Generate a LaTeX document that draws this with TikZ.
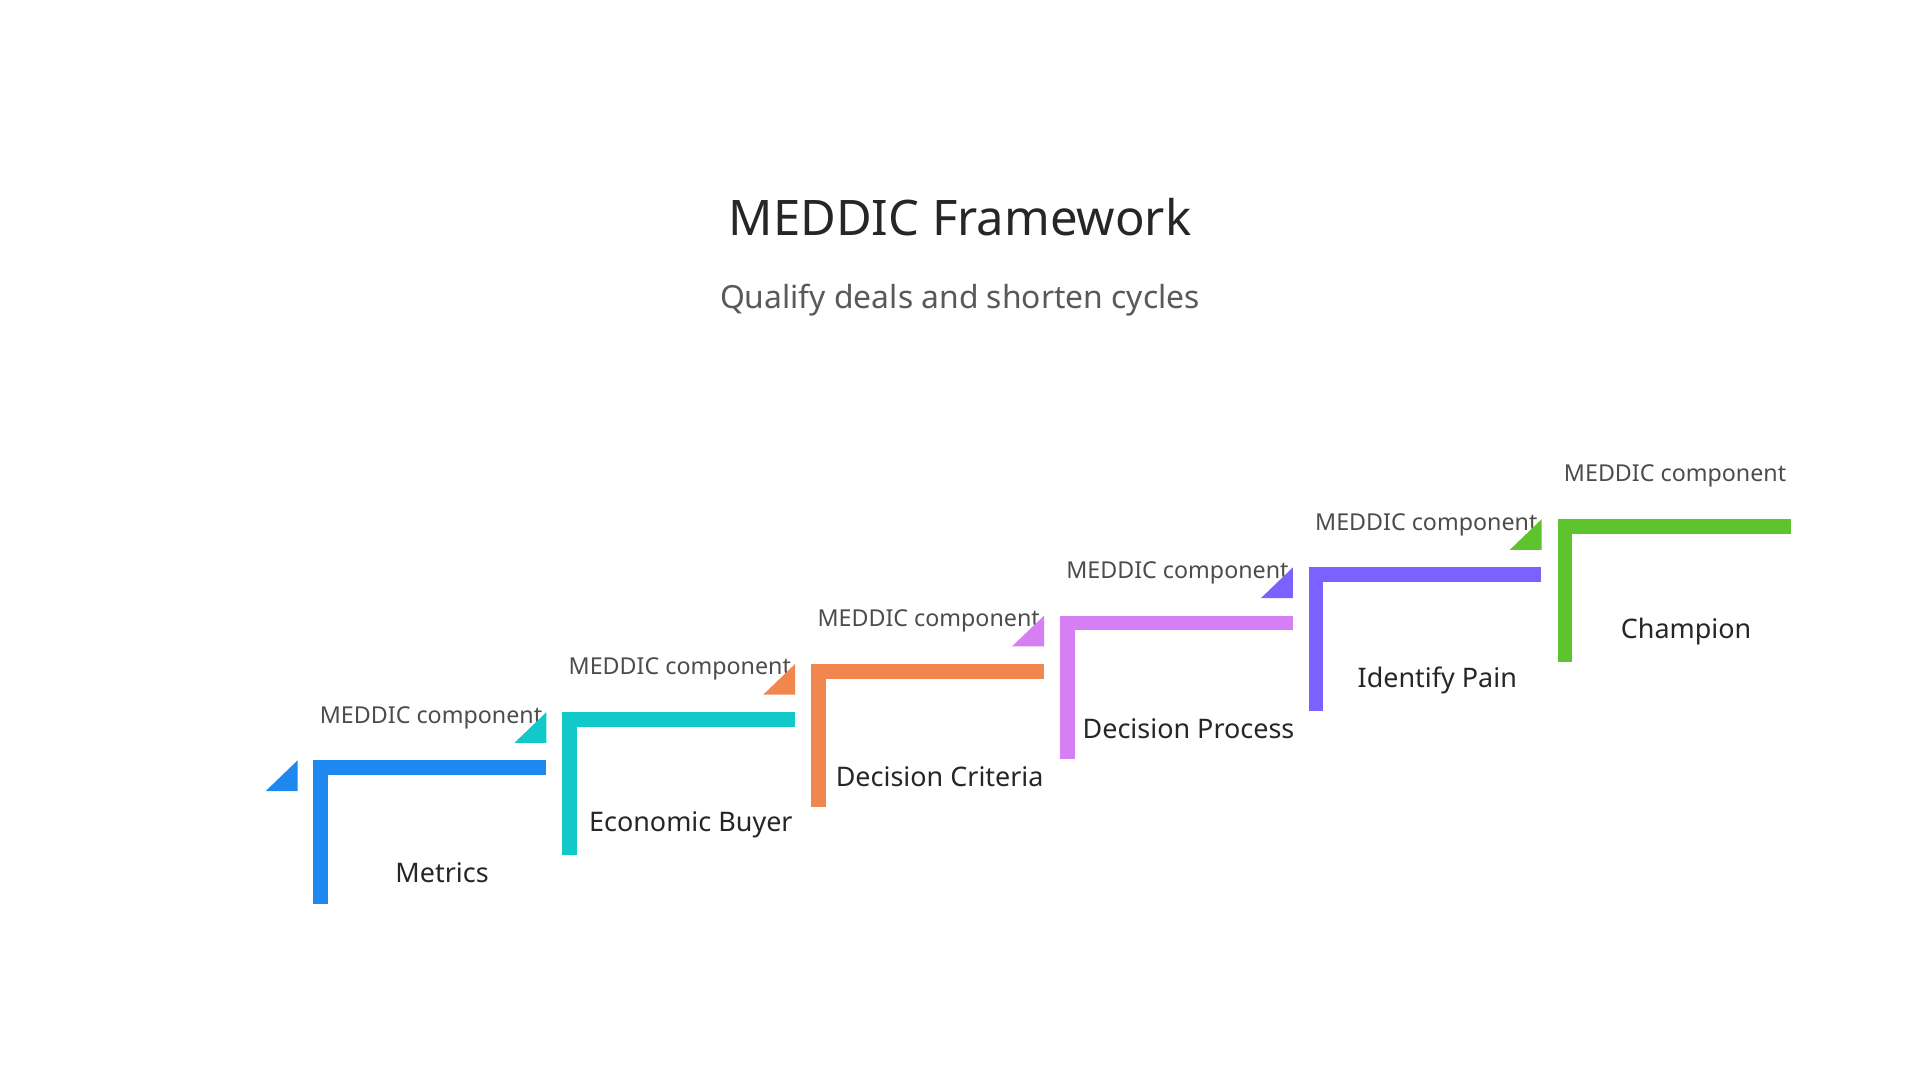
\documentclass[tikz,border=0pt]{standalone}
\usepackage{fontspec}
\setmainfont{Noto Sans}
\definecolor{cA}{HTML}{1E88F0}
\definecolor{cB}{HTML}{12C8C8}
\definecolor{cC}{HTML}{F0874F}
\definecolor{cD}{HTML}{D67FF5}
\definecolor{cE}{HTML}{7B61FF}
\definecolor{cF}{HTML}{5DC42E}
\tikzset{sub/.style={font=\fontsize{19}{22}\selectfont, text=black!70},
  ttl/.style={font=\fontsize{22}{26}\selectfont\bfseries, text=black!85}}
\begin{document}
\begin{tikzpicture}[x=1pt,y=-1pt]
\useasboundingbox[fill=white] (0,0) rectangle (1568,882);
\node[font=\fontsize{40}{46}\selectfont, text=black!85] (title) at (784,177) {MEDDIC Framework};
\node[font=\fontsize{26}{30}\selectfont, text=black!65] (subtitle) at (784,245) {Qualify deals and shorten cycles};
\foreach \i/\c/\t/\w in {0/cA/Metrics/190,1/cB/Economic Buyer/190,2/cC/Decision Criteria/190,3/cD/Decision Process/190,4/cE/Identify Pain/190,5/cF/Champion/191}{
  \pgfmathsetmacro\xo{256+203.2*\i}
  \pgfmathsetmacro\yo{621-39.4*\i}
  \fill[\c] (\xo,\yo) rectangle ++(12,117);
  \fill[\c] (\xo,\yo) rectangle ++(\w,12);
  \fill[\c] (\xo-39,\yo+25) -- (\xo-13,\yo) -- (\xo-13,\yo+25) -- cycle;
  \node[sub] (s\i) at (\xo+96,\yo-35) {MEDDIC component};
  \node[ttl] (t\i) at (\xo+105,\yo+92) {\t};
}
\end{tikzpicture}
\end{document}
